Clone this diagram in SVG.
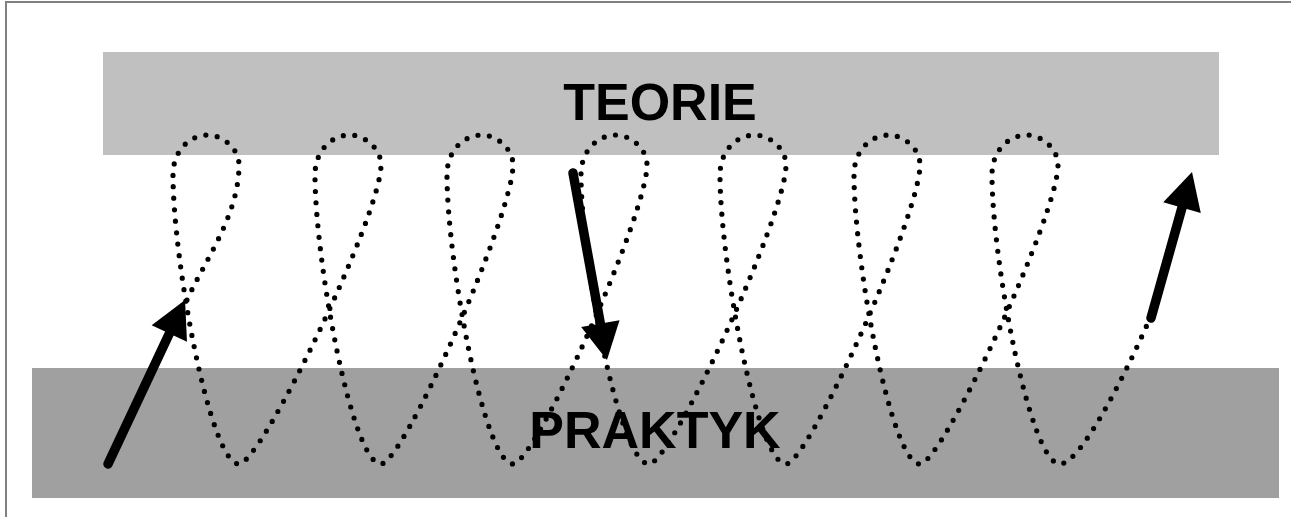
<svg xmlns="http://www.w3.org/2000/svg" width="1291" height="517" viewBox="0 0 1291 517">
  <style>
    .label { font-family: "Liberation Sans", Arial, sans-serif; font-weight: bold; font-size: 52px; fill: #000; text-anchor: middle; }
    .dots { fill: none; stroke: #000; stroke-width: 5.2; stroke-linecap: round; stroke-dasharray: 0 11.5; }
    .arrow { fill: none; stroke: #000; stroke-width: 9.5; stroke-linecap: round; marker-end: url(#head); }
    .frame { stroke: #808080; stroke-width: 2; fill: none; }
  </style>
  <defs>
    <marker id="head" markerUnits="userSpaceOnUse" viewBox="0 -20 40 40" markerWidth="40" markerHeight="40" refX="7" refY="0" orient="auto" overflow="visible">
      <path d="M0,-19.5 L37,0 L0,19.5 z" fill="#000"/>
    </marker>
  </defs>
  <rect x="0" y="0" width="1291" height="517" fill="#fff"/>
  <g id="frame">
    <line class="frame" x1="5" y1="2" x2="1291" y2="2"/>
    <line class="frame" x1="6" y1="1" x2="6" y2="517"/>
  </g>
  <g id="praktyk">
    <rect x="32" y="368" width="1247" height="130" fill="#a0a0a0"/>
    <text class="label" x="655" y="448">PRAKTYK</text>
  </g>
  <g id="teorie">
    <rect x="103" y="52" width="1116" height="103" fill="#c0c0c0"/>
    <text class="label" x="660" y="120">TEORIE</text>
  </g>
  <g id="connectors">
    <path class="dots" d="M 187,300 C 205,260 239,215 239,165
      C 239,148 222,135 208,135 C 190,135 173,150 173,175 C 173,260 210,464 239,464
      C 261,464 381,215 381,165
      C 381,148 364,135 350,135 C 332,135 315,150 315,175 C 315,260 352,464 381,464
      C 403,464 513,215 513,165
      C 513,148 496,135 482,135 C 464,135 447,150 447,175 C 447,260 484,464 513,464
      C 535,464 647,215 647,165
      C 647,148 630,135 616,135 C 598,135 581,150 581,175 C 581,260 619,464 649,464
      C 671,464 786,215 786,165
      C 786,148 769,135 755,135 C 737,135 720,150 720,175 C 720,260 757,464 786,464
      C 808,464 920,215 920,165
      C 920,148 903,135 889,135 C 871,135 854,150 854,175 C 854,260 891,464 920,464
      C 942,464 1058,215 1058,165
      C 1058,148 1041,135 1027,135 C 1009,135 992,150 992,175 C 992,260 1030,464 1060,464
      C 1082,464 1132,360 1150,318"/>
    <line class="arrow" x1="108" y1="464" x2="172.3" y2="327.2"/>
    <line class="arrow" x1="573" y1="173" x2="601.6" y2="330.5"/>
    <line class="arrow" x1="1151" y1="318" x2="1183.9" y2="200.9"/>
  </g>
</svg>
